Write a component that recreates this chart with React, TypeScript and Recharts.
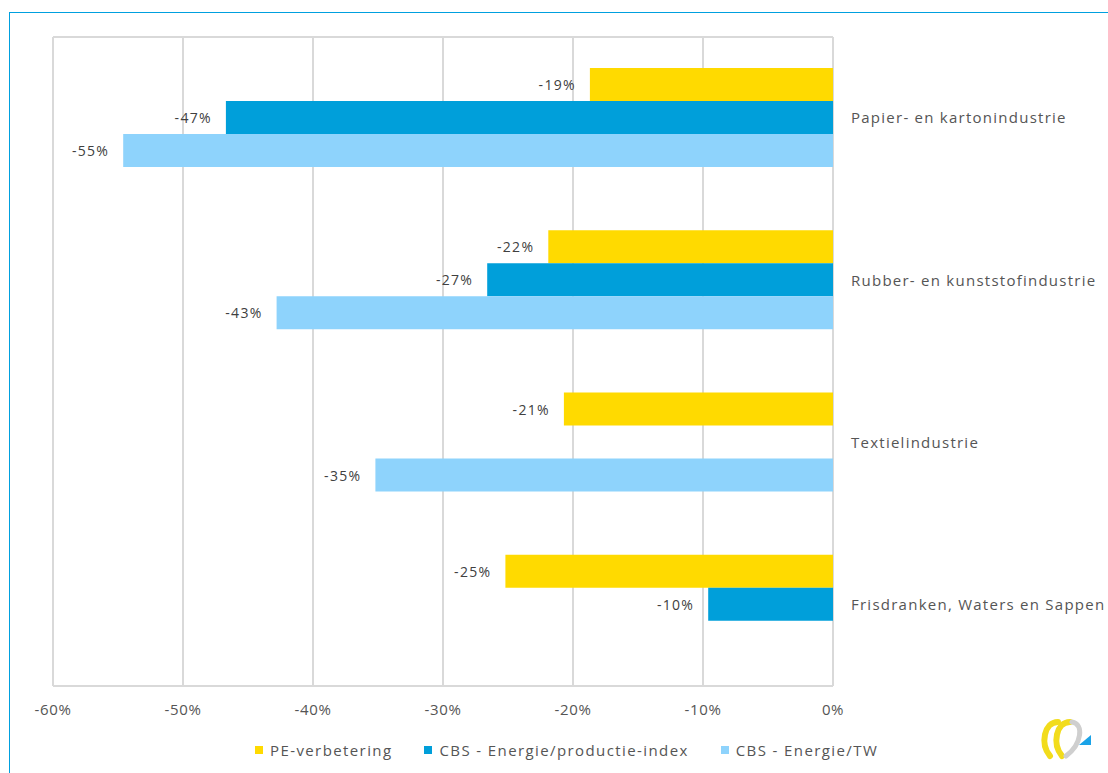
import React from "react";
import { BarChart, Bar, XAxis, YAxis, CartesianGrid, Legend, LabelList } from "recharts";

const categories = [
  "Papier- en kartonindustrie",
  "Rubber- en kunststofindustrie",
  "Textielindustrie",
  "Frisdranken, Waters en Sappen",
];
const peVerbetering = [-18.7, -21.9, -20.7, -25.2];
const cbsProductie: (number | null)[] = [-46.7, -26.6, null, -9.6];
const cbsTW: (number | null)[] = [-54.6, -42.8, -35.2, null];
const xTicks = [-60, -50, -40, -30, -20, -10, 0];

const seriesDefs = [
  { key: "pe", name: "PE-verbetering", color: "#FFDA00" },
  { key: "prod", name: "CBS - Energie/productie-index", color: "#009FDA" },
  { key: "tw", name: "CBS - Energie/TW", color: "#8ED3FC" },
];

const data = categories.map((name, i) => ({
  name,
  pe: peVerbetering[i],
  prod: cbsProductie[i],
  tw: cbsTW[i],
}));

const FONT = "'Open Sans', 'DejaVu Sans', sans-serif";

const BarLabel = (props: any) => {
  const { x, y, width, height, value } = props;
  if (value === null || value === undefined) return null;
  const endX = Math.min(Number(x), Number(x) + Number(width));
  return (
    <text
      x={endX - 14}
      y={Number(y) + Number(height) / 2}
      textAnchor="end"
      dominantBaseline="central"
      fill="#404040"
      fontSize={14}
      fontFamily={FONT}
      letterSpacing={1.3}
    >
      {`${Math.round(Number(value))}%`}
    </text>
  );
};

const LegendContent = () => (
  <div
    style={{
      display: "flex",
      alignItems: "center",
      fontFamily: FONT,
      fontSize: 15,
      letterSpacing: 1.4,
      color: "#555555",
      height: 24,
    }}
  >
    {seriesDefs.map((s, i) => (
      <div key={s.key} style={{ display: "flex", alignItems: "center", marginRight: i < seriesDefs.length - 1 ? 32 : 0 }}>
        <span style={{ display: "inline-block", width: 8, height: 8, background: s.color, marginRight: 7 }} />
        <span>{s.name}</span>
      </div>
    ))}
  </div>
);

const Logo = () => (
  <svg width={60} height={50} style={{ position: "absolute", left: 1036, top: 714 }} viewBox="0 0 60 50">
    <path d="M 22 8 C 8 8, 4 30, 14 42" fill="none" stroke="#F2DC1C" strokeWidth={6} strokeLinecap="round" />
    <path d="M 34 8 C 20 8, 16 30, 26 42" fill="none" stroke="#F2DC1C" strokeWidth={6} strokeLinecap="round" />
    <path d="M 36 8 C 48 10, 46 30, 30 42" fill="none" stroke="#CFCFCF" strokeWidth={5} strokeLinecap="round" />
    <path d="M 43 31 L 55 31 L 55 21 Z" fill="#1AA3E8" />
  </svg>
);

export default function App() {
  return (
    <div style={{ position: "absolute", left: 0, top: 0, width: 1108, height: 773, background: "#fff", overflow: "hidden" }}>
      <div
        style={{
          position: "absolute",
          left: 9,
          top: 12,
          width: 1108,
          height: 773,
          borderLeft: "1.5px solid #00A0DF",
          borderTop: "1.5px solid #00A0DF",
        }}
      />
      <BarChart
        width={1108}
        height={773}
        data={data}
        layout="vertical"
        margin={{ top: 37, left: 53, right: 0, bottom: 33 }}
        barCategoryGap={31}
        barGap={0}
        style={{ position: "absolute", left: 0, top: 0 }}
      >
        <CartesianGrid
          stroke="#D9D9D9"
          strokeWidth={2}
          vertical={true}
          horizontal={true}
          horizontalCoordinatesGenerator={({ offset }: any) => [offset.top, offset.top + offset.height]}
        />
        <XAxis
          type="number"
          domain={[-60, 0]}
          ticks={xTicks}
          tickFormatter={(v: number) => `${v}%`}
          axisLine={false}
          tickLine={false}
          tickMargin={12}
          height={30}
          tick={{ fill: "#555555", fontSize: 15, fontFamily: FONT, letterSpacing: 0.6 }}
        />
        <YAxis
          type="category"
          dataKey="name"
          orientation="right"
          width={275}
          axisLine={false}
          tickLine={false}
          tickMargin={12}
          tick={{ fill: "#555555", fontSize: 15, fontFamily: FONT, textAnchor: "start", letterSpacing: 1.25 }}
        />
        <Legend
          verticalAlign="bottom"
          content={<LegendContent />}
          wrapperStyle={{ position: "absolute", left: 255, top: 738, width: 700, height: 24 }}
        />
        {seriesDefs.map((s) => (
          <Bar key={s.key} dataKey={s.key} name={s.name} fill={s.color} isAnimationActive={false}>
            <LabelList dataKey={s.key} content={<BarLabel />} />
          </Bar>
        ))}
      </BarChart>
      <Logo />
    </div>
  );
}
